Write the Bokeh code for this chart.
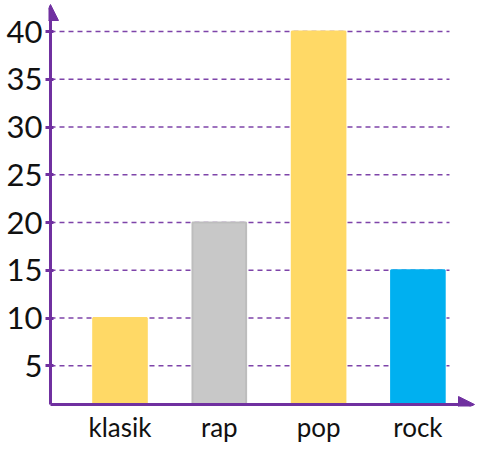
from bokeh.plotting import figure
from bokeh.models import Range1d, FixedTicker, Arrow, NormalHead, ColumnDataSource
from bokeh.embed import file_html
from bokeh.resources import INLINE

categories = ["klasik", "rap", "pop", "rock"]
values = [10, 20, 40, 15]
bar_colors = ["#FFD966", "#C8C8C8", "#FFD966", "#00B0F0"]
bar_borders = ["#FFD966", "#BDBDBD", "#FFD966", "#00B0F0"]
y_ticks = [5, 10, 15, 20, 25, 30, 35, 40]

PURPLE = "#7030A0"
FONT = "Lato"

x_pos = [i + 0.5 for i in range(len(categories))]
base = 0.95
x_axis_at = -0.2

src = ColumnDataSource(dict(x=x_pos, top=values, color=bar_colors, border=bar_borders, cat=categories))

p = figure(width=475, height=445,
           x_range=Range1d(-0.2201, 4.08), y_range=Range1d(0.74, 43.25),
           output_backend="svg", toolbar_location=None,
           min_border_left=48, min_border_right=0, min_border_top=0, min_border_bottom=39)

p.outline_line_color = None
p.grid.visible = False
p.background_fill_color = "white"

# dashed guide lines
p.segment(x0=[x_axis_at] * len(y_ticks), x1=[3.818] * len(y_ticks), y0=y_ticks, y1=y_ticks,
          line_color=PURPLE, line_width=1.4, line_dash="5 4", line_alpha=0.9)

p.vbar(x="x", top="top", bottom=base, width=0.54, fill_color="color",
       line_color="border", line_width=2, source=src)

# axes with arrows
p.add_layout(Arrow(x_start=x_axis_at, y_start=base, x_end=x_axis_at, y_end=42.83,
                   line_color=PURPLE, line_width=3,
                   end=NormalHead(size=16, fill_color=PURPLE, line_color=PURPLE)))
p.add_layout(Arrow(x_start=x_axis_at, y_start=base, x_end=4.07, y_end=base,
                   line_color=PURPLE, line_width=3,
                   end=NormalHead(size=16, fill_color=PURPLE, line_color=PURPLE)))

p.yaxis.ticker = FixedTicker(ticks=y_ticks)
p.yaxis.axis_line_color = None
p.yaxis.major_tick_line_color = PURPLE
p.yaxis.major_tick_line_width = 3
p.yaxis.major_tick_in = 5
p.yaxis.major_tick_out = 3
p.yaxis.minor_tick_line_color = None
p.yaxis.major_label_standoff = 3
p.yaxis.major_label_text_font = FONT
p.yaxis.major_label_text_font_size = "31px"
p.yaxis.major_label_text_color = "#111111"

p.xaxis.ticker = FixedTicker(ticks=x_pos)
p.xaxis.major_label_overrides = {x: c for x, c in zip(x_pos, categories)}
p.xaxis.axis_line_color = None
p.xaxis.major_tick_line_color = None
p.xaxis.minor_tick_line_color = None
p.xaxis.major_tick_in = 0
p.xaxis.major_tick_out = 0
p.xaxis.major_label_standoff = 4
p.xaxis.major_label_text_font = FONT
p.xaxis.major_label_text_font_size = "26px"
p.xaxis.major_label_text_color = "#111111"

open("out.html", "w").write(file_html(p, INLINE))
